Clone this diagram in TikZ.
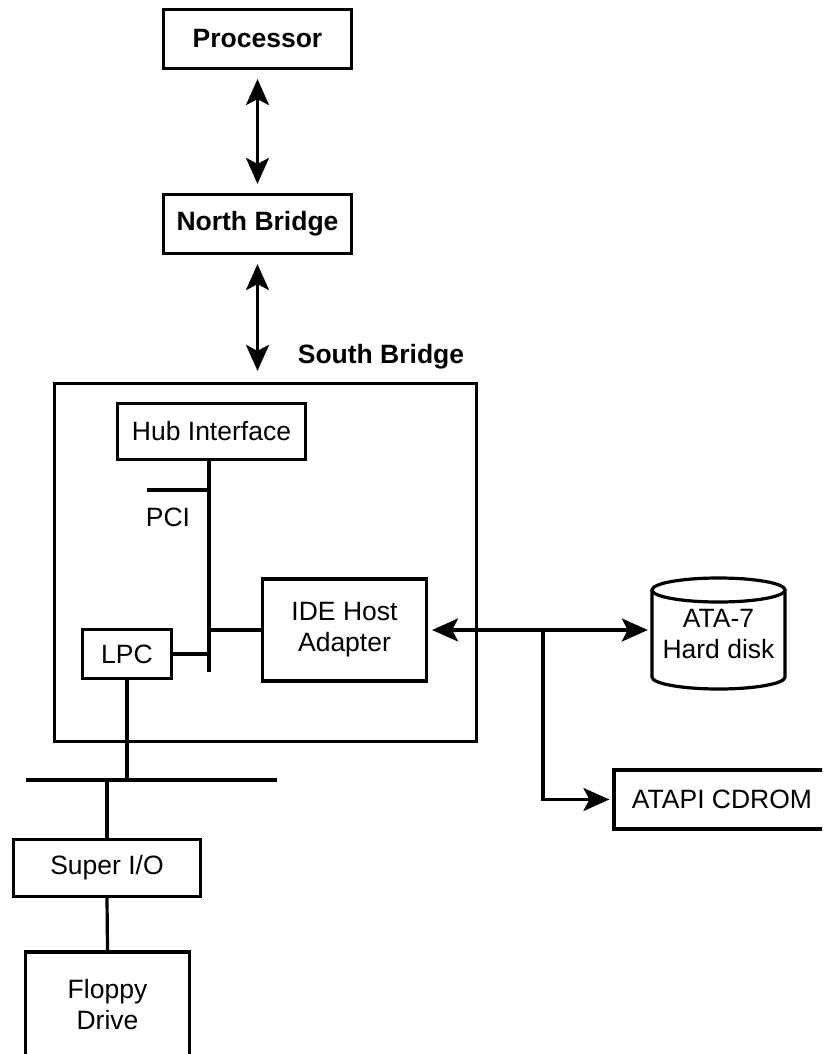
\documentclass[tikz,border=0pt]{standalone}
\usepackage{fontspec}
\setmainfont{Liberation Sans}
\usetikzlibrary{arrows.meta}
\begin{document}
\begin{tikzpicture}[x=1pt,y=-1pt,
  every node/.style={font=\fontsize{26.5}{31}\selectfont},
  box/.style={draw,line width=3.2pt,inner sep=0pt,align=center},
  bbox/.style={box,font=\fontsize{26.5}{31}\selectfont\bfseries},
  wire/.style={line width=3.2pt},
  dbl/.style={wire,{Stealth[length=26pt,width=23pt,inset=6pt]}-{Stealth[length=26pt,width=23pt,inset=6pt]}},
  arr/.style={wire,-{Stealth[length=26pt,width=23pt,inset=6pt]}}]
\clip (0,0) rectangle (822,1054);
% top nodes
\node[bbox,minimum width=188,minimum height=59] (proc) at (257.5,39) {Processor};
\node[bbox,minimum width=188,minimum height=59] (nb) at (257.5,224) {North Bridge};
\node[box,minimum width=422,minimum height=358] (sb) at (265.5,562.5) {};
\node[font=\fontsize{26.5}{31}\selectfont\bfseries] (sblabel) at (381,357) {South Bridge};
% inside south bridge
\node[box,minimum width=188,minimum height=56] (hub) at (211.5,431.5) {Hub Interface};
\node[box,minimum width=164,minimum height=102] (ide) at (344.5,630) {IDE Host\\Adapter};
\node[box,minimum width=89,minimum height=49] (lpc) at (127,654) {LPC};
\node (pcilabel) at (168,517) {PCI};
\coordinate (pci) at (209,672);
\coordinate (pcistub) at (147,490);
% outside
\node[box,minimum width=187,minimum height=57] (sio) at (107,868) {Super I/O};
\node[box,minimum width=164,minimum height=106] (floppy) at (107.5,1005) {Floppy\\Drive};
\node[box,minimum width=216,minimum height=59] (cdrom) at (722,799.5) {ATAPI CDROM};
\node[inner sep=0pt,minimum width=133,minimum height=110,align=center] (disk) at (718.5,634) {ATA-7\\Hard disk};
\coordinate (busL) at (26,780);
\coordinate (busR) at (277,780);
\coordinate (j) at (543,630);
% cylinder
\draw[wire] (652,590) -- (652,677) arc[start angle=180,end angle=0,x radius=66.5,y radius=12] -- (785,590);
\draw[wire] (718.5,590) ellipse[x radius=66.5,y radius=12];
% connectors
\draw[dbl,shorten <=9pt,shorten >=9pt] (proc.south) -- (nb.north);
\draw[dbl,shorten <=9pt,shorten >=11pt] (nb.south) -- (nb.south |- sb.north);
\draw[wire] (hub.south -| pci) -- (pci);
\draw[wire] (pcistub) -- (pcistub -| pci);
\draw[wire] (ide.west) -- (ide.west -| pci);
\draw[wire] (lpc.east) -- (lpc.east -| pci);
\draw[wire] (lpc.south) -- (lpc.south |- busL);
\draw[wire] (busL) -- (busR);
\draw[wire] (sio.north) -- (sio.north |- busL);
\draw[wire] (sio.south) -- (floppy.north);
\draw[dbl,shorten <=4pt,shorten >=4pt] (ide.east) -- (ide.east -| disk.west);
\draw[arr,shorten >=3pt] (j) |- (cdrom.west);
\end{tikzpicture}
\end{document}
